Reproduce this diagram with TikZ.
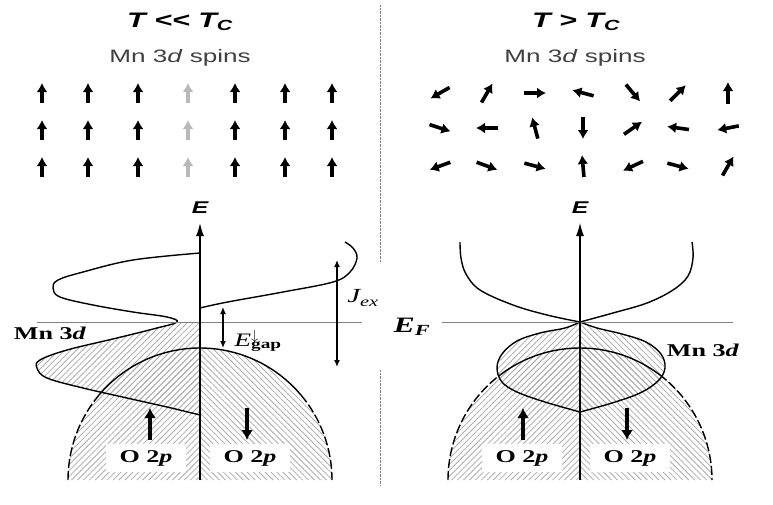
\documentclass[tikz,border=0pt]{standalone}
\usepackage{fontspec}
\setmainfont{Liberation Serif}[FakeStretch=1.45]
\setsansfont{Liberation Sans}[FakeStretch=1.45]
\usetikzlibrary{arrows.meta,patterns.meta}

\begin{document}
\begin{tikzpicture}[x=1pt,y=1pt,
  spin/.style={-{Latex[length=9pt,width=11pt]},line width=3.6pt},
  bigspin/.style={-{Latex[length=10pt,width=12pt]},line width=3.6pt},
  axis/.style={line width=1.6pt,-{Latex[length=13pt,width=8pt]}},
  band/.style={line width=1.4pt},
  fermi/.style={gray,line width=0.9pt},
  gaparrow/.style={line width=1.5pt,{Latex[length=7pt,width=6pt]}-{Latex[length=7pt,width=6pt]}},
  lbl/.style={font=\fontsize{18}{20}\selectfont\bfseries},
  obox/.style={lbl,fill=white,minimum width=80pt,minimum height=28pt,inner sep=0pt},
  hatchL/.style={pattern={Lines[angle=45,distance=4.2pt,line width=0.8pt]},pattern color=gray!65},
  hatchR/.style={pattern={Lines[angle=-45,distance=4.2pt,line width=0.8pt]},pattern color=gray!65},
  title/.style={font=\fontsize{21}{24}\selectfont\sffamily\bfseries\itshape},
  caption/.style={font=\fontsize{18}{20}\selectfont\sffamily,text=black!75}]
  \useasboundingbox (0,0) rectangle (773,-504);
  \def\upcurve{plot[smooth,tension=0.6] coordinates {(200,-253) (133,-260) (83,-272) (58,-280) (53,-288) (60,-297) (93,-305) (133,-312) (167,-317) (177,-322) (157,-328) (117,-338) (67,-350) (40,-360) (37,-368) (47,-378) (83,-388) (127,-398) (167,-407) (200,-415)}}

  % ---- T << Tc : spins all up
  \node[title] (titleL) at (180,-22) {T <{}< T\textsubscript{C}};
  \node[caption] (spinsL) at (180,-58) {Mn 3\textit{d} spins};
  \foreach \x/\c in {42/black,88/black,138/black,188/gray!55,235/black,285/black,332/black}
    \foreach \y in {93,130,167}
      \draw[spin,\c] (\x,-\y-10) -- (\x,-\y+10);

  % ---- T > Tc : random spins
  \node[title] (titleR) at (576,-22) {T > T\textsubscript{C}};
  \node[caption] (spinsR) at (575,-58) {Mn 3\textit{d} spins};
  \foreach \x/\a in {440/210,487/60,535/0,583/165,633/310,678/45,728/90}
    \draw[spin] (\x,-93) ++(\a+180:11) -- ++(\a:22);
  \foreach \x/\a in {440/-18,487/180,535/105,583/270,633/35,678/172,728/191}
    \draw[spin] (\x,-128) ++(\a+180:11) -- ++(\a:22);
  \foreach \x/\a in {440/200,487/-20,535/-15,583/95,633/205,678/-15,728/60}
    \draw[spin] (\x,-166) ++(\a+180:11) -- ++(\a:22);

  % divider
  \draw[densely dotted,gray] (380,-5) -- (380,-262);
  \draw[densely dotted,gray] (380,-370) -- (380,-485);

  % ---- left DOS
  \fill[hatchL] (68,-480) arc[start angle=180,end angle=90,radius=132] -- (200,-480) -- cycle;
  \fill[hatchR] (200,-348) arc[start angle=90,end angle=0,radius=132] -- (200,-480) -- cycle;
  \begin{scope}
    \clip (0,-322) rectangle (200,-504);
    \fill[hatchL] \upcurve -- cycle;
  \end{scope}
  \draw[band,dash pattern=on 9pt off 3pt] (68,-480) arc[start angle=180,end angle=140,radius=132];
  \draw[band] (200,-480) ++(140:132) arc[start angle=140,end angle=40,radius=132];
  \draw[band,dash pattern=on 9pt off 3pt] (200,-480) ++(40:132) arc[start angle=40,end angle=0,radius=132];
  \draw[band] \upcurve;
  \draw[band] plot[smooth,tension=0.6] coordinates {(200,-308) (213,-305) (233,-301) (283,-292) (333,-282) (350,-272) (357,-258) (353,-248) (345,-242)};
  \draw[fermi] (37,-322) -- (362,-322);
  \coordinate (oL) at (200,-480);
  \coordinate (tL) at (200,-223);
  \draw[axis] (oL) -- (tL);
  \node[font=\fontsize{17}{20}\selectfont\sffamily\bfseries\itshape] (EL) at (200,-208) {E};
  \coordinate (gapTop) at (223,-307);
  \coordinate (gapBot) at (223,-348);
  \draw[gaparrow] (gapTop) -- (gapBot);
  \node[font=\fontsize{19}{20}\selectfont] (Egap) at (258,-341) {\textit{E}\rlap{\textsuperscript{$\downarrow$}}\textsubscript{\bfseries gap}};
  \coordinate (jTop) at (337,-260);
  \coordinate (jBot) at (337,-367);
  \draw[gaparrow] (jTop) -- (jBot);
  \node[font=\fontsize{20}{22}\selectfont\itshape] (Jex) at (363,-298) {J\textsubscript{ex}};
  \node[lbl] (MnL) at (50,-333) {Mn 3\textit{d}};
  \node[obox] (OupL) at (146,-458) {O 2\textit{p}};
  \node[obox] (OdnL) at (250,-458) {O 2\textit{p}};
  \draw[bigspin] (150,-440) -- (150,-408);
  \draw[bigspin] (247,-408) -- (247,-440);

  % ---- right DOS
  \fill[hatchL] (448,-480) arc[start angle=180,end angle=90,radius=132] -- (580,-480) -- cycle;
  \fill[hatchR] (580,-348) arc[start angle=90,end angle=0,radius=132] -- (580,-480) -- cycle;
  \fill[hatchL] plot[smooth,tension=0.6] coordinates {(580,-322) (565,-328) (540,-333) (517,-341) (502,-354) (497,-368) (502,-382) (517,-392) (545,-402) (580,-412)} -- cycle;
  \fill[hatchR] plot[smooth,tension=0.6] coordinates {(580,-322) (597,-328) (622,-334) (646,-342) (661,-354) (665,-368) (658,-381) (640,-393) (612,-403) (580,-412)} -- cycle;
  \draw[band,dash pattern=on 9pt off 3pt] (448,-480) arc[start angle=180,end angle=127,radius=132];
  \draw[band] (580,-480) ++(127:132) arc[start angle=127,end angle=53,radius=132];
  \draw[band,dash pattern=on 9pt off 3pt] (580,-480) ++(53:132) arc[start angle=53,end angle=0,radius=132];
  \draw[band] plot[smooth,tension=0.6] coordinates {(580,-322) (565,-328) (540,-333) (517,-341) (502,-354) (497,-368) (502,-382) (517,-392) (545,-402) (580,-412)};
  \draw[band] plot[smooth,tension=0.6] coordinates {(580,-322) (597,-328) (622,-334) (646,-342) (661,-354) (665,-368) (658,-381) (640,-393) (612,-403) (580,-412)};
  \draw[band] plot[smooth,tension=0.6] coordinates {(460,-242) (461,-258) (466,-274) (480,-290) (513,-305) (547,-315) (580,-322)};
  \draw[band] plot[smooth,tension=0.6] coordinates {(692,-242) (693,-258) (688,-276) (673,-290) (647,-303) (613,-313) (580,-322)};
  \draw[fermi] (442,-322) -- (733,-322);
  \coordinate (oR) at (580,-480);
  \coordinate (tR) at (580,-223);
  \draw[axis,line width=1.1pt] (oR) -- (tR);
  \node[font=\fontsize{17}{20}\selectfont\sffamily\bfseries\itshape] (ER) at (580,-208) {E};
  \node[font=\fontsize{22}{24}\selectfont\bfseries\itshape] (EF) at (412,-327) {E\textsubscript{F}};
  \node[lbl] (MnR) at (703,-350) {Mn 3\textit{d}};
  \node[obox] (OupR) at (522,-458) {O 2\textit{p}};
  \node[obox] (OdnR) at (630,-458) {O 2\textit{p}};
  \draw[bigspin] (523,-440) -- (523,-408);
  \draw[bigspin] (627,-408) -- (627,-440);
\end{tikzpicture}
\end{document}
